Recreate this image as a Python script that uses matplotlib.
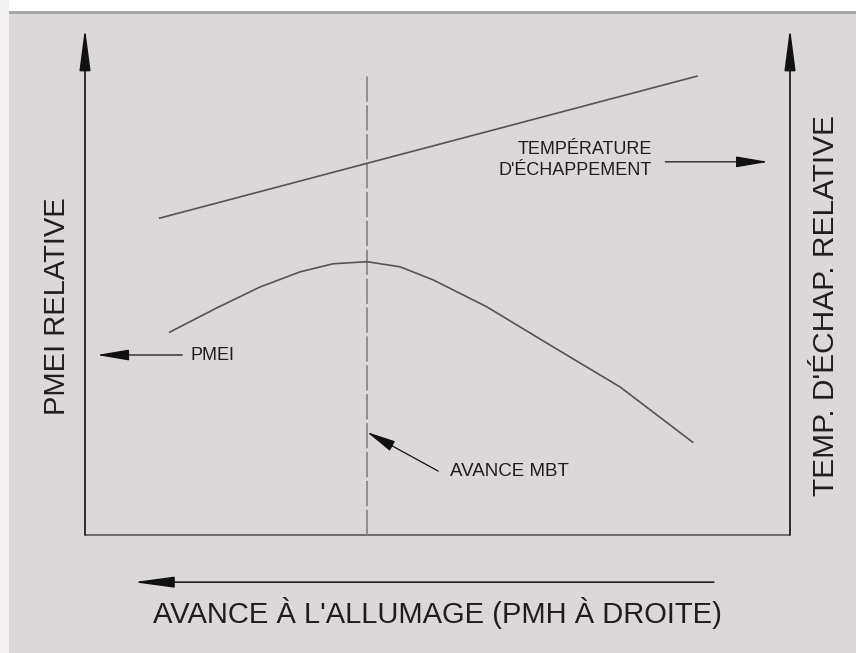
import matplotlib
matplotlib.use('Agg')
import matplotlib.pyplot as plt
from matplotlib.patches import Rectangle

plt.rcParams['font.family'] = ['Liberation Sans', 'DejaVu Sans']

# courbes (unités relatives, 0-100 sur chaque axe)
pmei_x = [12, 18.7, 24.8, 30.5, 35.2, 40, 44.7, 49.4, 57, 66.4, 75.9, 86.2]
pmei_y = [40, 44.8, 48.9, 51.9, 53.5, 53.9, 52.9, 50.3, 45, 37.1, 29.2, 18.3]
temp_x = [10.6, 86.8]
temp_y = [62.5, 90.5]
avance_mbt = 40

W, H = 856, 653
fig = plt.figure(figsize=(W / 100, H / 100), dpi=100)
fig.patch.set_facecolor('#dcd8d9')

# bandes blanches du scan (haut et gauche)
fig.add_artist(Rectangle((0, 1 - 11 / H), 1, 11 / H, transform=fig.transFigure,
                         facecolor='white', edgecolor='none'))
fig.add_artist(Rectangle((0, 0), 9 / W, 1, transform=fig.transFigure,
                         facecolor='#f1eff0', edgecolor='none'))
fig.add_artist(Rectangle((9 / W, 1 - 14 / H), 1, 3 / H, transform=fig.transFigure,
                         facecolor='#a9a7a8', edgecolor='none'))

# axes : gauche 85px, droite 790px, bas 535px, haut 28px
ax = fig.add_axes([85 / W, (H - 535) / H, 705 / W, 507 / H])
ax.set_xlim(0, 100)
ax.set_ylim(0, 100)
ax.set_facecolor('none')
ax.axis('off')

axe_col = '#6e6c6d'
courbe_col = '#555355'
txt_col = '#1e1e1e'


def fleche(x0, y0, x1, y1, hl, col='#111111', lw=1.1):
    ax.annotate('', xy=(x1, y1), xytext=(x0, y0), annotation_clip=False,
                arrowprops=dict(arrowstyle='-|>,head_length=%.1f,head_width=%.1f' % (hl, 3.4),
                                mutation_scale=1, fc=col, ec=col,
                                lw=lw, shrinkA=0, shrinkB=0))


# axes avec flèches
ax.plot([0, 100], [0, 0], color=axe_col, lw=1.4, clip_on=False, solid_capstyle='butt')
fleche(0, 0, 0, 100, 26, lw=1.2)
fleche(100, 0, 100, 100, 26, lw=1.2)

# avance MBT
ax.plot([avance_mbt, avance_mbt], [0, 90.7], color='#8a8889', lw=1.3,
        dashes=(14, 2))

# courbes
ax.plot(temp_x, temp_y, color=courbe_col, lw=1.2)
ax.plot(pmei_x, pmei_y, color=courbe_col, lw=1.2)

# annotations
fleche(13.8, 35.5, 1.7, 35.5, 20, lw=0.9)
ax.text(14.9, 35.5, 'PMEI', ha='left', va='center', fontsize=13, color=txt_col)

fleche(82.3, 73.6, 96.9, 73.6, 20, lw=0.9)
ax.text(80.4, 74.0, 'TEMPÉRATURE\nD\'ÉCHAPPEMENT', ha='right', va='center',
        multialignment='right', fontsize=13, color=txt_col, linespacing=1.35)

fleche(50.1, 12.6, avance_mbt, 20.3, 18, lw=0.9)
ax.text(51.8, 12.6, 'AVANCE MBT', ha='left', va='center', fontsize=13.5, color=txt_col)

# flèche d'avance en bas
fleche(89.2, -9.3, 6.9, -9.3, 25, lw=1.1)

fig.text(437 / W, (H - 613) / H, 'AVANCE À L\'ALLUMAGE (PMH À DROITE)',
         ha='center', va='center', fontsize=21, color=txt_col)
fig.text(57 / W, (H - 306) / H, 'PMEI RELATIVE', rotation=90,
         ha='center', va='center', fontsize=21, color=txt_col)
fig.text(826 / W, (H - 306) / H, 'TEMP. D\'ÉCHAP. RELATIVE', rotation=90,
         ha='center', va='center', fontsize=21.5, color=txt_col)

fig.savefig('out.png', dpi=100, facecolor=fig.get_facecolor())
